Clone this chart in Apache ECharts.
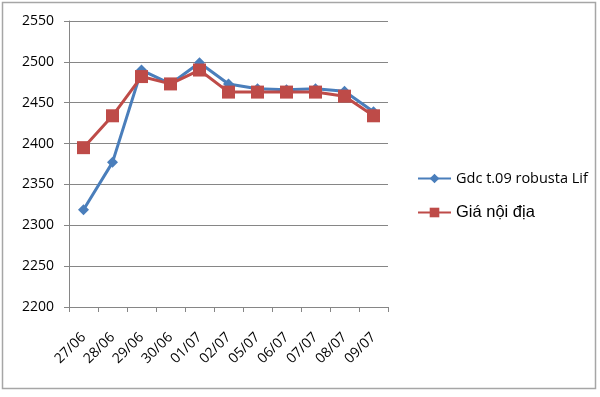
<!DOCTYPE html>
<html>
<head>
<meta charset="utf-8">
<script src="https://cdn.jsdelivr.net/npm/echarts@6/dist/echarts.min.js"></script>
<style>
  html, body { margin: 0; padding: 0; background: #fff; }
  #chart { width: 600px; height: 397px; }
</style>
</head>
<body>
<div id="chart"></div>
<script>
const dates = ['27/06', '28/06', '29/06', '30/06', '01/07', '02/07', '05/07', '06/07', '07/07', '08/07', '09/07'];
const gdcValues = [2319, 2377, 2490, 2473, 2499, 2473, 2467, 2466, 2467, 2464, 2439];
const noiDiaValues = [2395, 2434, 2482, 2473, 2490, 2463, 2463, 2463, 2463, 2458, 2434];
const yTicks = [2200, 2250, 2300, 2350, 2400, 2450, 2500, 2550];

const chart = echarts.init(document.getElementById('chart'));
const option = {
    backgroundColor: '#fff',
    animation: false,
    graphic: [{
        type: 'rect',
        shape: { x: 2.5, y: 2.5, width: 593, height: 386 },
        style: { fill: 'none', stroke: '#a6a6a6', lineWidth: 1.5 },
        silent: true
    }],
    grid: { left: 69, right: 212, top: 21, bottom: 90 },
    legend: {
        orient: 'vertical',
        left: 412,
        top: 166,
        itemWidth: 33,
        itemHeight: 12,
        itemGap: 18,
        data: ['Gdc t.09 robusta Lif', 'Giá nội địa'],
        formatter: function (name) {
            return name === 'Giá nội địa' ? '{b|' + name + '}' : '{a|' + name + '}';
        },
        textStyle: {
            color: '#000',
            rich: {
                a: { fontFamily: 'Open Sans', fontSize: 14.5, color: '#000' },
                b: { fontFamily: 'Liberation Sans', fontSize: 16.5, color: '#000' }
            }
        }
    },
    xAxis: {
        type: 'category',
        data: dates,
        boundaryGap: true,
        axisLine: { lineStyle: { color: '#868686', width: 1 } },
        axisTick: { show: true, length: 5, lineStyle: { color: '#868686' } },
        axisLabel: {
            rotate: 45,
            color: '#000',
            fontFamily: 'Open Sans',
            fontSize: 14,
            margin: 28,
            interval: 0
        },
        splitLine: { show: false }
    },
    yAxis: {
        type: 'value',
        min: yTicks[0],
        max: yTicks[yTicks.length - 1],
        interval: 50,
        axisLine: { show: true, lineStyle: { color: '#868686', width: 1 } },
        axisTick: { show: true, length: 5, lineStyle: { color: '#868686' } },
        axisLabel: {
            color: '#000',
            fontFamily: 'Open Sans',
            fontSize: 14,
            margin: 15,
            formatter: function (v) { return String(v); }
        },
        splitLine: { lineStyle: { color: '#868686', width: 1 } }
    },
    series: [
        {
            name: 'Gdc t.09 robusta Lif',
            type: 'line',
            data: gdcValues,
            symbol: 'diamond',
            symbolSize: 11,
            lineStyle: { color: '#4a7ebb', width: 3 },
            itemStyle: { color: '#4a7ebb' },
            z: 2
        },
        {
            name: 'Giá nội địa',
            type: 'line',
            data: noiDiaValues,
            symbol: 'rect',
            symbolSize: 13,
            lineStyle: { color: '#be4b48', width: 3 },
            itemStyle: { color: '#be4b48' },
            z: 3
        }
    ]
};
chart.setOption(option);
</script>
</body>
</html>
